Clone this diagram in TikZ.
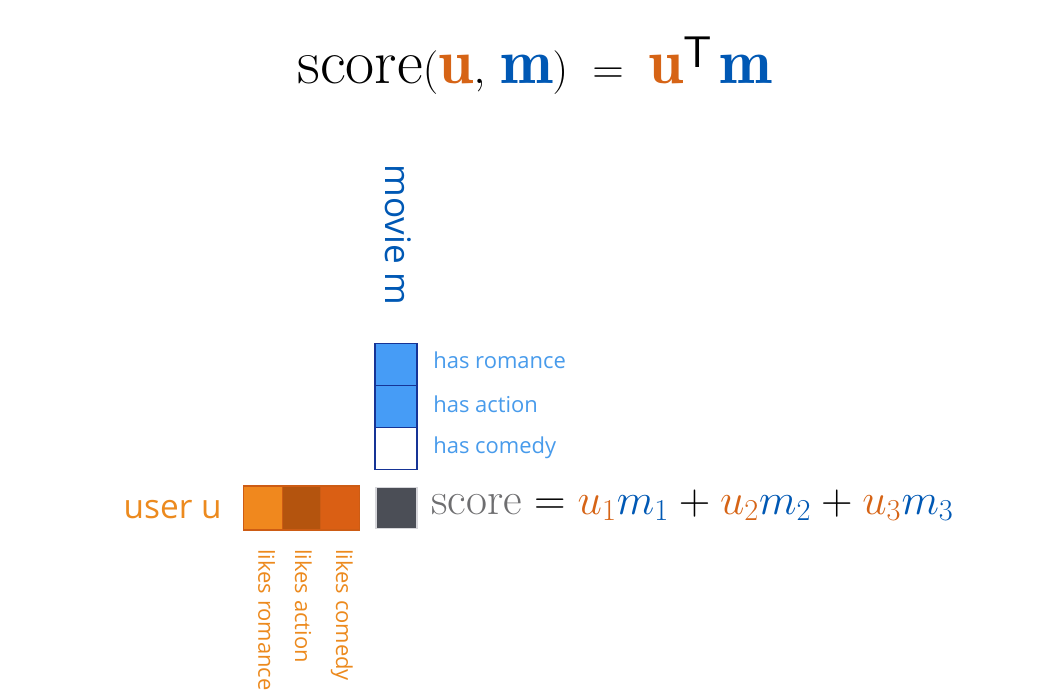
\documentclass[tikz,border=0pt]{standalone}
\usepackage{amsmath}
\usepackage{fontspec}
\newfontfamily\labfont{Open Sans}
\usepackage{xcolor}
\usetikzlibrary{positioning}

\definecolor{uorange}{RGB}{214,100,22}
\definecolor{mblue}{RGB}{0,88,180}
\definecolor{labblue}{RGB}{72,155,235}
\definecolor{userorange}{RGB}{236,138,30}
\definecolor{cellA}{RGB}{240,136,30}
\definecolor{cellB}{RGB}{180,84,14}
\definecolor{cellC}{RGB}{218,95,20}
\definecolor{cellline}{RGB}{205,92,20}
\definecolor{mfill}{RGB}{70,156,246}
\definecolor{mline}{RGB}{22,52,150}
\definecolor{scorefill}{RGB}{75,78,86}
\definecolor{scoretext}{RGB}{110,110,112}

\begin{document}
\begin{tikzpicture}[
    x=0.02cm,y=-0.02cm,
    mcell/.style={draw=mline, line width=0.8pt, minimum width=0.84cm, minimum height=0.84cm, inner sep=0pt, outer sep=0pt},
    ucell/.style={draw=cellline, line width=0.6pt, minimum width=0.77cm, minimum height=0.88cm, inner sep=0pt, outer sep=0pt},
    lab/.style={font=\labfont\fontsize{12.5}{14}\selectfont, inner sep=0pt},
    vlab/.style={lab, text=userorange, rotate=-90, anchor=west}
  ]
    \useasboundingbox (0,0) rectangle (1050,699);

    % title
    \node[inner sep=0pt, font=\fontsize{36}{42}\selectfont] (title) at (535,66)
      {$\text{score}(\textcolor{uorange}{\mathbf{u}},\,\textcolor{mblue}{\mathbf{m}})\;=\;\textcolor{uorange}{\mathbf{u}}^{\mathsf{T}}\,\textcolor{mblue}{\mathbf{m}}$};

    % movie vector
    \node[lab, text=mblue, rotate=-90, font=\labfont\fontsize{20}{24}\selectfont] (movie) at (398,235) {movie m};
    \node[mcell, fill=mfill] (m1) at (396,364.5) {};
    \node[mcell, fill=mfill, below=0pt of m1] (m2) {};
    \node[mcell, fill=white, below=0pt of m2] (m3) {};
    \node[lab, text=labblue, anchor=west] (h1) at (433,360) {has romance};
    \node[lab, text=labblue, anchor=west] (h2) at (433,404) {has action};
    \node[lab, text=labblue, anchor=west] (h3) at (433,448) {has comedy};

    % user vector
    \node[ucell, fill=cellA] (u1) at (263,508) {};
    \node[ucell, fill=cellB, right=0pt of u1] (u2) {};
    \node[ucell, fill=cellC, right=0pt of u2] (u3) {};
    \node[lab, text=userorange, anchor=east, font=\labfont\fontsize{19}{22}\selectfont] (user) at (222,510) {user u};
    \node[vlab] (l1) at ([xshift=2pt]u1.south |- 0,549) {likes romance};
    \node[vlab] (l2) at ([xshift=1pt]u2.south |- 0,549) {likes action};
    \node[vlab] (l3) at ([xshift=1pt]u3.south |- 0,549) {likes comedy};

    % score
    \node[draw={rgb,255:red,214;green,214;blue,218}, line width=1pt, fill=scorefill, minimum width=0.82cm, minimum height=0.82cm, inner sep=0pt] (s) at (396.5,508) {};
    \node[anchor=west, inner sep=0pt, font=\fontsize{26}{30}\selectfont] (eq) at (431,505)
      {$\textcolor{scoretext}{\text{score}} = \textcolor{uorange}{u_1}\textcolor{mblue}{m_1} + \textcolor{uorange}{u_2}\textcolor{mblue}{m_2} + \textcolor{uorange}{u_3}\textcolor{mblue}{m_3}$};
\end{tikzpicture}
\end{document}
